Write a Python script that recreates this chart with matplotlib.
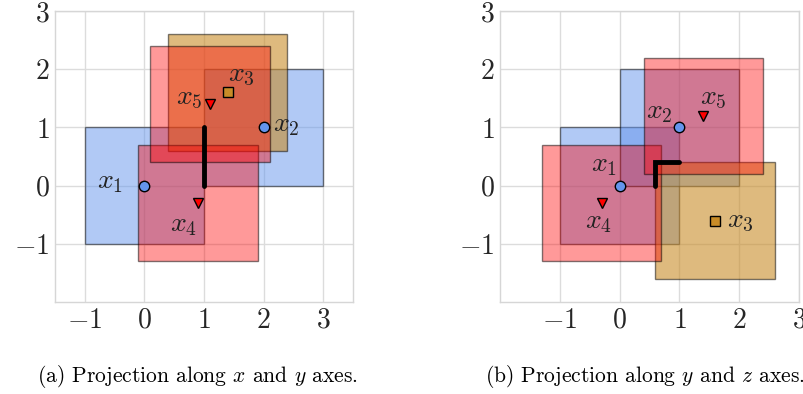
import matplotlib
matplotlib.use("Agg")
import matplotlib.pyplot as plt
from matplotlib.patches import Rectangle

plt.rcParams['mathtext.fontset'] = 'cm'
plt.rcParams['font.family'] = ['cmr10', 'DejaVu Serif']
plt.rcParams['axes.formatter.use_mathtext'] = True

# ---------------- data ----------------
point_names = ['x_1', 'x_2', 'x_3', 'x_4', 'x_5']
point_kinds = ['circle', 'circle', 'square', 'tri', 'tri']

# panel (a): projection along x and y
a_px = [0.0, 2.0, 1.4, 0.9, 1.1]
a_py = [0.0, 1.0, 1.6, -0.3, 1.4]
a_box_x0 = [-1.0, 1.0, 0.4, -0.1, 0.1]
a_box_y0 = [-1.0, 0.0, 0.6, -1.3, 0.4]
a_box_w = [2.0, 2.0, 2.0, 2.0, 2.0]
a_label_x = [-0.36, 2.16, 1.41, 0.88, 0.97]
a_label_y = [0.06, 1.04, 1.90, -0.68, 1.50]
a_label_ha = ['right', 'left', 'left', 'right', 'right']
a_seg_x = [1.0, 1.0]
a_seg_y = [0.0, 1.0]

# panel (b): projection along y and z
b_px = [0.0, 1.0, 1.6, -0.3, 1.4]
b_py = [0.0, 1.0, -0.6, -0.3, 1.2]
b_box_x0 = [-1.0, 0.0, 0.6, -1.3, 0.4]
b_box_y0 = [-1.0, 0.0, -1.6, -1.3, 0.2]
b_box_w = [2.0, 2.0, 2.0, 2.0, 2.0]
b_label_x = [-0.04, 0.88, 1.80, -0.13, 1.35]
b_label_y = [0.35, 1.27, -0.60, -0.63, 1.50]
b_label_ha = ['right', 'right', 'left', 'right', 'left']
b_seg_x = [0.6, 0.6, 1.0]
b_seg_y = [0.0, 0.4, 0.4]

ticks = [-1, 0, 1, 2, 3]
captions = [r'(a) Projection along $x$ and $y$ axes.',
            r'(b) Projection along $y$ and $z$ axes.']

# ---------------- styles ----------------
blue = (100/255, 149/255, 237/255)
red = (1.0, 0.0, 0.0)
gold = (200/255, 140/255, 40/255)
kind_face = {'circle': (blue, 0.5), 'square': (gold, 0.6), 'tri': (red, 0.4)}
kind_marker = {'circle': ('o', blue), 'square': ('s', gold), 'tri': ('v', red)}
text_col = '0.15'

fig = plt.figure(figsize=(8.04, 3.94), dpi=100)
ax_a = fig.add_axes([55/804, 92/394, 298/804, 291/394])
ax_b = fig.add_axes([500/804, 92/394, 299/804, 291/394])

panels = [
    (ax_a, a_px, a_py, a_box_x0, a_box_y0, a_box_w, a_label_x, a_label_y, a_label_ha, a_seg_x, a_seg_y, (-1.5, 3.5)),
    (ax_b, b_px, b_py, b_box_x0, b_box_y0, b_box_w, b_label_x, b_label_y, b_label_ha, b_seg_x, b_seg_y, (-2.0, 3.0)),
]

for (ax, px, py, bx, by, bw, lx, ly, lha, sx, sy, xlim) in panels:
    ax.set_xlim(*xlim)
    ax.set_ylim(-2.0, 3.0)
    ax.set_axisbelow(True)
    ax.grid(True, color='#dcdcdc', linewidth=1.0)
    for sp in ax.spines.values():
        sp.set_color('#d6d6d6')
        sp.set_linewidth(1.0)
    ax.set_xticks(ticks)
    ax.set_yticks(ticks)
    ax.set_xticklabels([f'${t}$' for t in ticks])
    ax.set_yticklabels([f'${t}$' for t in ticks])
    ax.tick_params(length=0, labelsize=20, colors=text_col, pad=4)
    for i in range(len(px)):
        fc, al = kind_face[point_kinds[i]]
        ax.add_patch(Rectangle((bx[i], by[i]), bw[i], bw[i],
                               facecolor=(*fc, al), edgecolor=(0, 0, 0, 0.5),
                               linewidth=1.0, zorder=2 + i * 0.01))
    ax.plot(sx, sy, color='black', linewidth=3.5, solid_capstyle='round',
            solid_joinstyle='miter', zorder=3)
    for i in range(len(px)):
        m, c = kind_marker[point_kinds[i]]
        ms = 7.5 if m == 'o' else 7
        ax.plot([px[i]], [py[i]], marker=m, markersize=ms, markerfacecolor=c,
                markeredgecolor='black', markeredgewidth=1.0, linestyle='none', zorder=4)
        ax.text(lx[i], ly[i], f'${point_names[i]}$', fontsize=20, color='#222222',
                ha=lha[i], va='center', zorder=5)

fig.text(198/804, 1 - 377/394, captions[0], fontsize=15.5, ha='center', va='center', color='black')
fig.text(645/804, 1 - 377/394, captions[1], fontsize=15.5, ha='center', va='center', color='black')

fig.savefig('out.png', dpi=100)
